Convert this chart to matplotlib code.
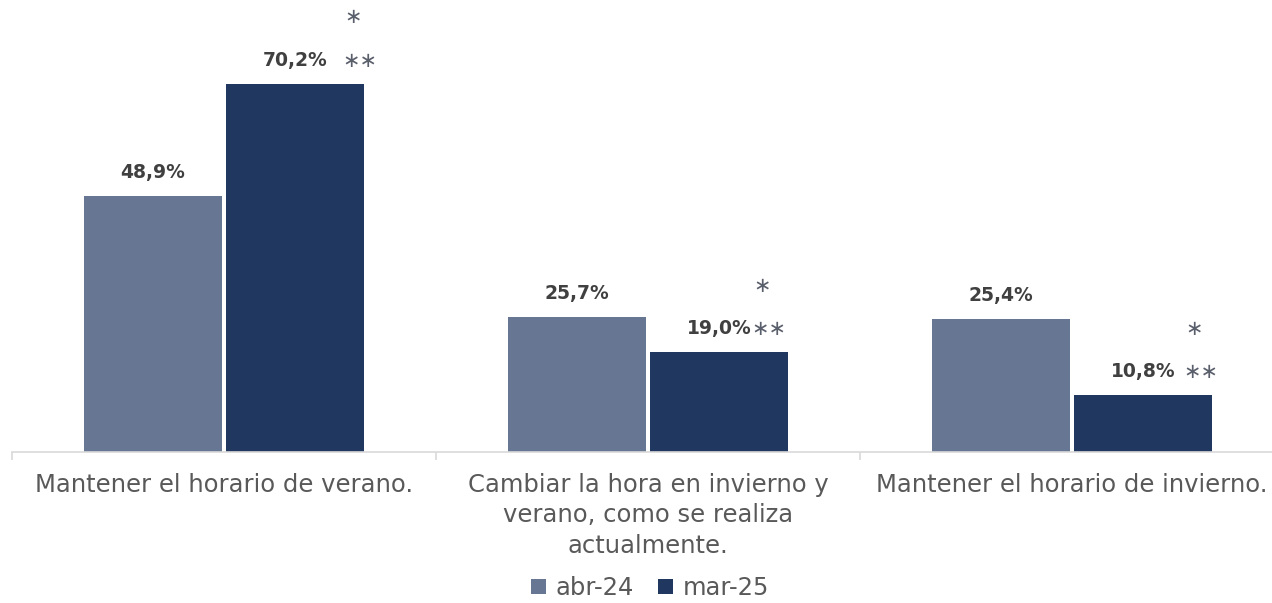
import numpy as np
import matplotlib.pyplot as plt

categories = ["Mantener el horario de verano.",
              "Cambiar la hora en invierno y\nverano, como se realiza\nactualmente.",
              "Mantener el horario de invierno."]
series = ["abr-24", "mar-25"]
abr_24 = [48.9, 25.7, 25.4]
mar_25 = [70.2, 19.0, 10.8]
stars_top = ["*", "*", "*"]
stars_low = ["**", "**", "**"]

colors = ["#677793", "#20375f"]
star_dx = [-4, -19, -11]   # px offset of star marks from right bar edge

plt.rcParams['font.family'] = ['DejaVu Sans']

W, H = 1272, 603
fig = plt.figure(figsize=(W / 100, H / 100), dpi=100)
fig.patch.set_facecolor("white")
base = 452
ax = fig.add_axes([12 / W, (H - base) / H, 1260 / W, base / H])

x = np.arange(len(categories))
bw = 0.325
gap = 0.005
b1 = ax.bar(x - bw / 2 - gap, abr_24, bw, color=colors[0], label=series[0])
b2 = ax.bar(x + bw / 2 + gap, mar_25, bw, color=colors[1], label=series[1])

for bars, vals in ((b1, abr_24), (b2, mar_25)):
    for r, v in zip(bars, vals):
        ax.annotate(f"{v:.1f}%".replace(".", ","),
                    (r.get_x() + r.get_width() / 2, v),
                    xytext=(0, 17), textcoords="offset points",
                    ha="center", va="center", fontsize=13.5,
                    fontweight="bold", color="#404040")

for i, r in enumerate(b2):
    v = mar_25[i]
    xr = r.get_x() + r.get_width()
    ax.annotate(stars_low[i].replace("*", "\u2217"), (xr, v),
                xytext=(star_dx[i] * 0.72, 17), textcoords="offset points",
                ha="center", va="center", fontsize=15, color="#5a5f6c")
    ax.annotate(stars_top[i].replace("*", "\u2217"), (xr, v),
                xytext=((star_dx[i] - 7) * 0.72, 48), textcoords="offset points",
                ha="center", va="center", fontsize=15, color="#5a5f6c")

for s in ["top", "right", "left"]:
    ax.spines[s].set_visible(False)
ax.spines["bottom"].set_color("#d9d9d9")
ax.spines["bottom"].set_linewidth(1.2)
ax.set_yticks([])
ax.set_xticks([-0.5, 0.5, 1.5])
ax.set_xticklabels([])
ax.tick_params(axis="x", length=6, color="#d9d9d9", width=1.2)
ax.set_xlim(-0.5, -0.5 + 1260 / 424)
ax.set_ylim(0, base / 5.24)
for xi, c in zip(x, categories):
    ax.text(xi, -21 / 5.24, c, ha="center", va="top", fontsize=17.5,
            color="#595959", linespacing=1.33)

fig.legend(loc="center", bbox_to_anchor=(650 / W, 1 - 588 / H),
           ncol=2, frameon=False, fontsize=17.5, labelcolor="#595959",
           handlelength=0.6, handleheight=0.6, handletextpad=0.4,
           columnspacing=1.0, borderpad=0.1)
fig.savefig("out.png", dpi=100, facecolor="white")
